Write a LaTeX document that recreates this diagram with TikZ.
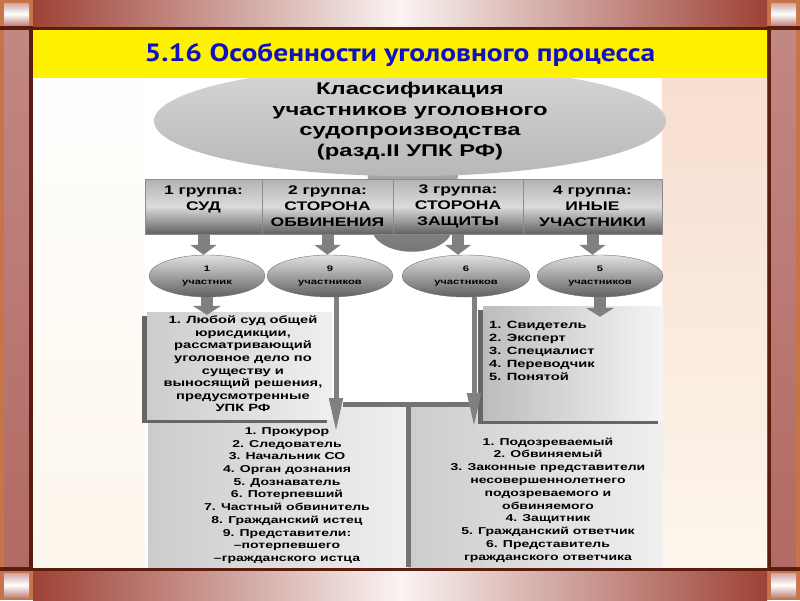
\documentclass[tikz,border=0pt]{standalone}
\usepackage{fontspec}
\setmainfont{Liberation Sans}[FakeStretch=1.4]
\newfontfamily\titlefont{PT Sans}[FakeStretch=1.18]
\usetikzlibrary{arrows.meta, positioning, shapes.geometric, shadows, calc}
\definecolor{framebrown}{RGB}{158, 66, 54}
\definecolor{framepost}{RGB}{178, 106, 100}
\definecolor{framedark}{RGB}{92, 28, 14}
\definecolor{frameedge}{RGB}{198, 116, 72}
\definecolor{titleblue}{RGB}{16, 16, 196}
\definecolor{paper}{RGB}{253, 246, 236}
\definecolor{peach}{RGB}{247, 222, 208}
\tikzset{
  groupcell/.style={
    rectangle, draw=black!45, inner sep=0pt, minimum height=55,
    top color=black!30, bottom color=black!62, middle color=black!14,
    font=\bfseries\fontsize{12.5}{16}\selectfont, align=center
  },
  countell/.style={
    ellipse, draw=black!55, inner sep=0pt, minimum height=42,
    top color=black!12, bottom color=black!62,
    font=\bfseries\fontsize{8}{13}\selectfont, align=center
  },
  listbox/.style={
    rectangle, inner sep=0pt, left color=black!20, right color=black!6
  },
  shadowbox/.style={
    listbox, drop shadow={shadow xshift=-5pt, shadow yshift=-4pt, fill=black!60, opacity=1}
  },
  listtext/.style={
    font=\bfseries\fontsize{10}{12.7}\selectfont, align=center, inner sep=0pt
  },
  blockarrow/.style={
    -{Triangle[width=26pt, length=10pt]}, line width=12pt, draw=black!50
  },
  longarrow/.style={
    -{Triangle[width=13pt, length=34pt]}, line width=5pt, draw=black!50
  },
  divider/.style={line width=5pt, draw=black!55}
}
\begin{document}
\begin{tikzpicture}[x=1pt, y=-1pt]
  \useasboundingbox (0,0) rectangle (800,600);
  % frame
  \fill[frameedge] (0,0) rectangle (800,600);
  \shade[top color=framepost!80!white, bottom color=framepost] (4,30) rectangle (29,567);
  \shade[top color=framepost!80!white, bottom color=framepost] (771,30) rectangle (796,567);
  \fill[framedark] (0,26) rectangle (800,30);
  \fill[framedark] (0,567) rectangle (800,571);
  \fill[framedark] (29,26) rectangle (33,571);
  \fill[framedark] (767,26) rectangle (771,571);
  \shade[left color=framebrown, right color=framebrown, middle color=white!94!framebrown] (33,0) rectangle (767,26);
  \shade[left color=framebrown, right color=framebrown, middle color=white!94!framebrown] (33,571) rectangle (767,600);
  \shade[top color=framepost!60!white, bottom color=framepost!80, middle color=white] (4,3) rectangle (29,25);
  \shade[top color=framepost!60!white, bottom color=framepost!80, middle color=white] (771,3) rectangle (796,25);
  \shade[top color=framepost!60!white, bottom color=framepost!80, middle color=white] (4,573) rectangle (29,597);
  \shade[top color=framepost!60!white, bottom color=framepost!80, middle color=white] (771,573) rectangle (796,597);
  \shade[top color=white, bottom color=paper] (33,30) rectangle (767,567);
  \shade[top color=peach, bottom color=paper] (662,78) rectangle (767,567);
  \fill[white] (145,78) rectangle (662,567);

  % funnel
  \shade[top color=black!32, bottom color=black!55] (366,160) -- (374,236) .. controls (388,257) and (436,257) .. (450,236) -- (460,160) -- cycle;
  \node[ellipse, minimum width=512, minimum height=106, inner sep=0pt,
        top color=black!16, bottom color=black!28,
        font=\bfseries\fontsize{17}{20.7}\selectfont, align=center] (classif) at (410,121)
        {Классификация\\участников уголовного\\судопроизводства\\(разд.II УПК РФ)};

  % title
  \fill[yellow] (33,30) rectangle (767,78);
  \node[font=\titlefont\bfseries\fontsize{25}{30}\selectfont, text=titleblue] (title) at (400,55)
        {5.16 Особенности уголовного процесса};

  % groups
  \node[groupcell, minimum width=117] (g1) at (203.5,206.5) {1 группа:\\СУД\\~};
  \node[groupcell, minimum width=131] (g2) at (327.5,206.5) {2 группа:\\СТОРОНА\\ОБВИНЕНИЯ};
  \node[groupcell, minimum width=130] (g3) at (458,206.5) {3 группа:\\СТОРОНА\\ЗАЩИТЫ};
  \node[groupcell, minimum width=139] (g4) at (592.5,206.5) {4 группа:\\ИНЫЕ\\УЧАСТНИКИ};

  \node[countell, minimum width=116] (c1) at (207,276) {1\\участник};
  \node[countell, minimum width=126] (c2) at (330,276) {9\\участников};
  \node[countell, minimum width=128] (c3) at (466,276) {6\\участников};
  \node[countell, minimum width=126] (c4) at (600,276) {5\\участников};

  \draw[blockarrow] (g1.south) -- (g1.south |- c1.north);
  \draw[blockarrow] (g2.south) -- (g2.south |- c2.north);
  \draw[blockarrow] (g3.south) -- (g3.south |- c3.north);
  \draw[blockarrow] (g4.south) -- (g4.south |- c4.north);

  % lists
  \node[listbox, minimum width=260, minimum height=162] (b2) at (278,486) {};
  \node[listbox, minimum width=255, minimum height=162] (b3) at (535.5,486) {};
  \draw[divider] ([xshift=-65pt]b2.north east) -- ([xshift=64pt]b3.north west);
  \draw[divider] (b2.north east) -- (b2.south east);
  \node[shadowbox, minimum width=185, minimum height=107] (b1) at (239.5,365.5) {};
  \node[shadowbox, left color=black!26, right color=black!4, minimum width=180, minimum height=114] (b4) at (573,363) {};

  \node[listtext, font=\bfseries\fontsize{10.5}{12.6}\selectfont] (l1) at (243,364)
        {1. Любой суд общей\\юрисдикции,\\рассматривающий\\уголовное дело по\\существу и\\выносящий решения,\\предусмотренные\\УПК РФ};
  \node[listtext] (l2) at (287,495.5)
        {1. Прокурор\\2. Следователь\\3. Начальник СО\\4. Орган дознания\\5. Дознаватель\\6. Потерпевший\\7. Частный обвинитель\\8. Гражданский истец\\9. Представители:\\–потерпевшего\\–гражданского истца};
  \node[listtext, font=\bfseries\fontsize{10}{12.8}\selectfont] (l3) at (548,500)
        {1. Подозреваемый\\2. Обвиняемый\\3. Законные представители\\несовершеннолетнего\\подозреваемого и\\обвиняемого\\4. Защитник\\5. Гражданский ответчик\\6. Представитель\\гражданского ответчика};
  \node[listtext, align=left, anchor=west, font=\bfseries\fontsize{10.5}{13}\selectfont] (l4) at (489,351)
        {1. Свидетель\\2. Эксперт\\3. Специалист\\4. Переводчик\\5. Понятой};

  \coordinate (t2) at (336,432);
  \coordinate (t3) at (474,427);
  \draw[blockarrow, -{Triangle[width=28pt, length=9pt]}] (c1.south) -- ([yshift=-3pt]c1.south |- b1.north);
  \draw[blockarrow, -{Triangle[width=28pt, length=9pt]}] (c4.south) -- ([yshift=-11pt]c4.south |- b4.north);
  \draw[longarrow] (c2.south -| t2) -- (t2);
  \draw[longarrow] (c3.south -| t3) -- (t3);
\end{tikzpicture}
\end{document}
